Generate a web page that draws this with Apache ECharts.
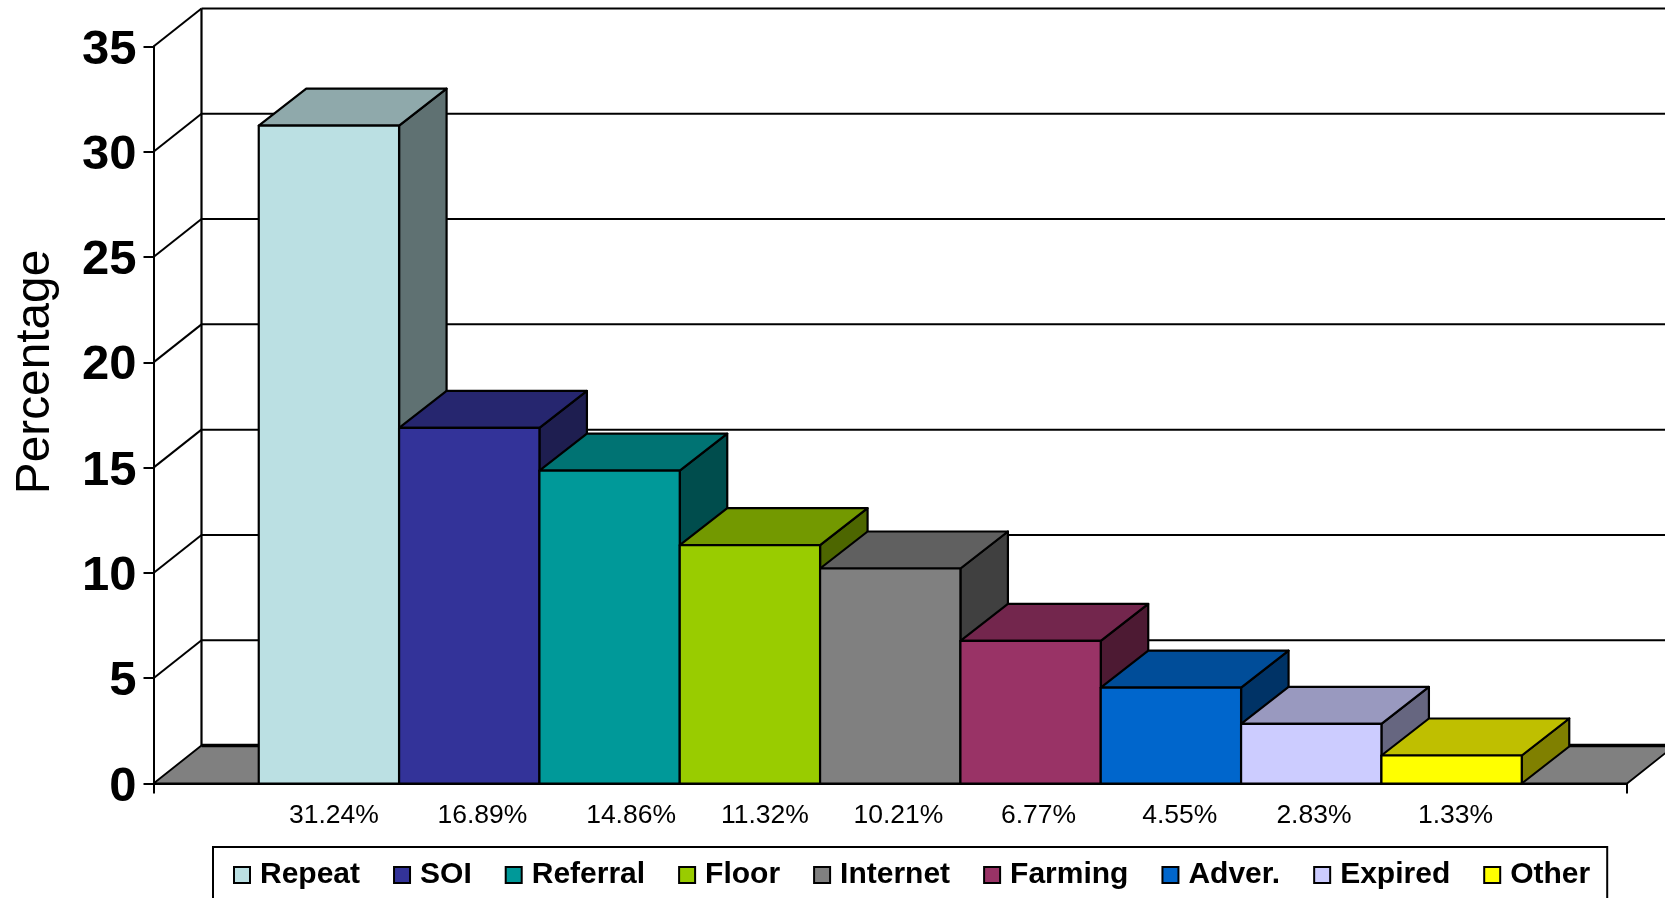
<!DOCTYPE html>
<html>
<head>
<meta charset="utf-8">
<title>Lead sources</title>
<style>
html, body { margin: 0; padding: 0; background: #fff; }
#chart { width: 1665px; height: 898px; }
</style>
<script src="https://cdn.jsdelivr.net/npm/echarts@6/dist/echarts.min.js"></script>
</head>
<body>
<div id="chart"></div>
<script>
// Lead source shares, in percent
const sources = ['Repeat', 'SOI', 'Referral', 'Floor', 'Internet', 'Farming', 'Adver.', 'Expired', 'Other'];
const shares = [31.24, 16.89, 14.86, 11.32, 10.21, 6.77, 4.55, 2.83, 1.33];
const yTicks = [0, 5, 10, 15, 20, 25, 30, 35];

// Face colours of each column: front, top, side
const frontColors = ['#BBE0E3', '#333399', '#009999', '#99CC00', '#808080', '#993366', '#0066CC', '#CCCCFF', '#FFFF00'];
const topColors = ['#8FA9AB', '#26266F', '#007373', '#739900', '#606060', '#73264D', '#004D99', '#9999BF', '#BFBF00'];
const sideColors = ['#5F7172', '#1E1E50', '#004D4D', '#4D6600', '#404040', '#4D1A33', '#003366', '#666680', '#808000'];

// Pseudo-3D projection and layout constants
const WALL_DX = 48, WALL_DY = 38;
const BAR_DX = 47.5, BAR_DY = 37;
const X_SPAN = 10.5, BAR_START = 0.75;
const LABEL_SHIFT = [5, 13.2, 21.5, 15, 8.2, 8, 8.8, 2.7, 3.9];
const LABEL_Y = 816;
const EDGE = { stroke: '#000', lineWidth: 2.2, lineJoin: 'round' };

const chart = echarts.init(document.getElementById('chart'), null, { renderer: 'canvas' });

function poly(points, fill) {
  return { type: 'polygon', shape: { points }, style: Object.assign({ fill }, EDGE) };
}

function line(a, b, width) {
  return {
    type: 'line',
    shape: { x1: a[0], y1: a[1], x2: b[0], y2: b[1] },
    style: { stroke: '#000', lineWidth: width }
  };
}

// Back wall, gridlines and floor, one item per value-axis tick
function renderWall(params, api) {
  const v = api.value(0);
  const front = api.coord([0, v]);
  const back = [front[0] + WALL_DX, front[1] - WALL_DY];
  const right = api.getWidth() + 60;
  if (v === 0) {
    const frontEnd = api.coord([X_SPAN, 0]);
    const top = api.coord([0, yTicks[yTicks.length - 1]]);
    return {
      type: 'group',
      children: [
        {
          type: 'polygon',
          shape: { points: [front, back, [frontEnd[0] + WALL_DX, back[1]], frontEnd] },
          style: { fill: '#808080', stroke: '#000', lineWidth: 1.8 }
        },
        line(back, [right, back[1]], 3.5),
        line(back, [back[0], top[1] - WALL_DY], 2.2)
      ]
    };
  }
  return {
    type: 'group',
    children: [line(front, back, 2), line(back, [right, back[1]], 2)]
  };
}

// One column with its percentage label below the axis
function makeColumn(i) {
  return function (params, api) {
    const x = BAR_START + api.value(0);
    const v = api.value(1);
    const bl = api.coord([x, 0]);
    const tr = api.coord([x + 1, v]);
    const tl = [bl[0], tr[1]];
    const br = [tr[0], bl[1]];
    const shift = (p) => [p[0] + BAR_DX, p[1] - BAR_DY];
    return {
      type: 'group',
      children: [
        poly([br, tr, shift(tr), shift(br)], sideColors[i]),
        poly([tl, tr, shift(tr), shift(tl)], topColors[i]),
        poly([bl, tl, tr, br], frontColors[i]),
        {
          type: 'text',
          style: {
            x: (bl[0] + br[0]) / 2 + LABEL_SHIFT[i],
            y: LABEL_Y,
            text: v.toFixed(2) + '%',
            fill: '#000',
            font: '26.5px "Liberation Sans", Arial, sans-serif',
            align: 'center',
            verticalAlign: 'middle'
          }
        }
      ]
    };
  };
}

const columnSeries = sources.map((name, i) => ({
  type: 'custom',
  name,
  coordinateSystem: 'cartesian2d',
  renderItem: makeColumn(i),
  encode: { x: 0, y: 1 },
  itemStyle: { color: frontColors[i] },
  clip: false,
  silent: true,
  data: [[i, shares[i]]]
}));

chart.setOption({
  animation: false,
  backgroundColor: '#fff',
  textStyle: { fontFamily: '"Liberation Sans", Arial, sans-serif' },
  grid: { left: 153.5, top: 46.5, width: 1473.5, height: 737, containLabel: false },
  xAxis: {
    type: 'value',
    min: 0,
    max: X_SPAN,
    interval: X_SPAN,
    axisLine: { show: true, onZero: false, lineStyle: { color: '#000', width: 2 } },
    axisTick: { show: true, length: 10, lineStyle: { color: '#000', width: 2 } },
    axisLabel: { show: false },
    splitLine: { show: false }
  },
  yAxis: {
    type: 'value',
    min: 0,
    max: 35,
    interval: 5,
    axisLine: { show: true, lineStyle: { color: '#000', width: 2 } },
    axisTick: { show: true, length: 10, lineStyle: { color: '#000', width: 2 } },
    axisLabel: {
      margin: 17,
      color: '#000',
      fontSize: 49,
      fontWeight: 'bold',
      fontFamily: '"Liberation Sans", Arial, sans-serif',
      verticalAlign: 'top',
      lineHeight: 7
    },
    splitLine: { show: false }
  },
  legend: {
    data: sources,
    left: 213,
    top: 847,
    orient: 'horizontal',
    selectedMode: false,
    icon: 'rect',
    itemWidth: 16,
    itemHeight: 16,
    itemGap: 33,
    padding: [13, 17, 40, 20],
    backgroundColor: '#fff',
    borderColor: '#000',
    borderWidth: 2,
    itemStyle: { borderColor: '#000', borderWidth: 2 },
    textStyle: {
      color: '#000',
      fontSize: 30,
      fontWeight: 'bold',
      fontFamily: '"Liberation Sans", Arial, sans-serif',
      padding: [0, 0, 0, 5]
    }
  },
  graphic: [{
    type: 'text',
    x: 36,
    y: 372,
    rotation: Math.PI / 2,
    style: {
      text: 'Percentage',
      fill: '#000',
      font: '47.8px "Liberation Sans", Arial, sans-serif',
      align: 'center',
      verticalAlign: 'middle'
    }
  }],
  series: [{
    type: 'custom',
    coordinateSystem: 'cartesian2d',
    renderItem: renderWall,
    encode: { y: 0 },
    clip: false,
    silent: true,
    z: 1,
    data: yTicks.map((v) => [v])
  }].concat(columnSeries.map((s) => Object.assign(s, { z: 2 })))
});
</script>
</body>
</html>
